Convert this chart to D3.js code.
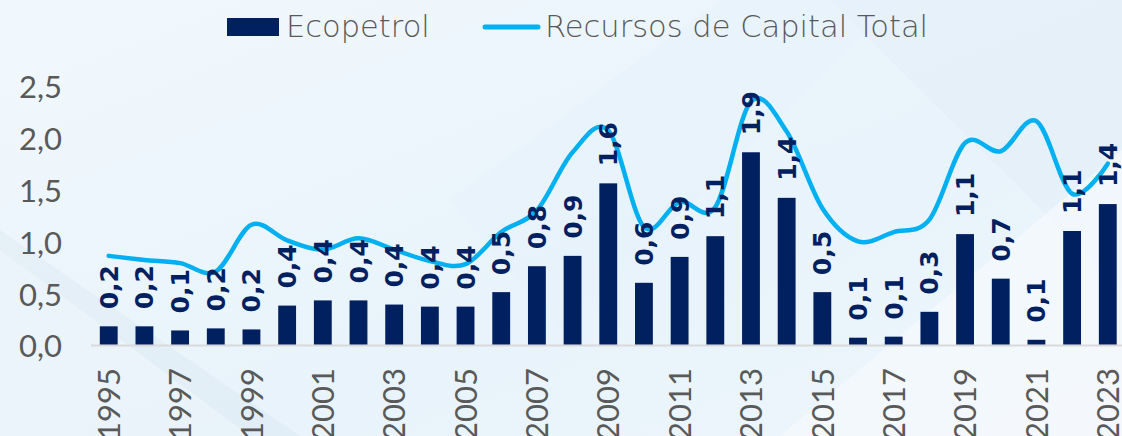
<!DOCTYPE html>
<html><head><meta charset="utf-8">
<script src="https://cdn.jsdelivr.net/npm/d3@7"></script>
<style>html,body{margin:0;padding:0;overflow:hidden;background:#eef6fc}</style>
</head><body>
<svg id="chart" width="1122" height="436"></svg>
<script>
const years = [1995,1996,1997,1998,1999,2000,2001,2002,2003,2004,2005,2006,2007,2008,2009,2010,2011,2012,2013,2014,2015,2016,2017,2018,2019,2020,2021,2022,2023];
const ecopetrol = [0.19,0.19,0.15,0.17,0.16,0.39,0.44,0.44,0.40,0.38,0.38,0.52,0.77,0.87,1.57,0.61,0.86,1.06,1.87,1.43,0.52,0.08,0.09,0.33,1.08,0.65,0.06,1.11,1.37];
const recursosTotal = [0.87,0.83,0.80,0.72,1.17,1.02,0.93,1.04,0.93,0.82,0.79,1.10,1.31,1.87,2.08,1.15,1.39,1.34,2.36,2.07,1.33,1.01,1.10,1.22,1.96,1.88,2.17,1.47,1.76];
const yTicks = [0,0.5,1.0,1.5,2.0,2.5];
const xTickYears = years.filter(y => (y - 1995) % 2 === 0);
const seriesNames = ["Ecopetrol","Recursos de Capital Total"];

const svg = d3.select("#chart");
const W = 1122, H = 436;
const comma = v => d3.format(".1f")(v).replace(".", ",");

// background
const defs = svg.append("defs");
const bg = defs.append("linearGradient").attr("id","bg").attr("x1","0").attr("y1","0").attr("x2","1").attr("y2","1");
bg.append("stop").attr("offset","0").attr("stop-color","#f1f8fd");
bg.append("stop").attr("offset","0.6").attr("stop-color","#e8f3fb");
bg.append("stop").attr("offset","1").attr("stop-color","#eef6fc");
svg.append("rect").attr("width",W).attr("height",H).attr("fill","url(#bg)");
svg.append("polygon").attr("points","0,230 0,436 300,436").attr("fill","#dbe8f2").attr("opacity",0.45);
svg.append("polygon").attr("points","0,250 0,436 250,436").attr("fill","#eef6fc").attr("opacity",0.6);
svg.append("polygon").attr("points","830,0 1122,0 1122,290").attr("fill","#e2eff9").attr("opacity",0.6);
svg.append("polygon").attr("points","780,436 1122,150 1122,436").attr("fill","#f6fafd").attr("opacity",0.7);
svg.append("polygon").attr("points","450,200 720,0 900,0 560,330").attr("fill","#e4f1fb").attr("opacity",0.35);

const x = d3.scaleBand().domain(years).range([90.9, 90.9 + 29*35.68]).paddingInner(0.5).paddingOuter(0.25);
const y = d3.scaleLinear().domain([0, 2.5]).range([346, 87]);
const cx = d => x(d) + x.bandwidth()/2;

// y axis labels
const yAxis = d3.axisLeft(y).tickValues(yTicks).tickFormat(comma).tickSize(0).tickPadding(0);
const gy = svg.append("g").attr("transform","translate(62,0)").call(yAxis);
gy.select(".domain").remove();
gy.selectAll("text").attr("font-family","Lato, 'Open Sans', sans-serif").attr("font-size",31).attr("fill","#595959").attr("dy","0.35em");

// baseline
svg.append("line").attr("x1",91).attr("x2",W).attr("y1",y(0)-0.5).attr("y2",y(0)-0.5).attr("stroke","#d9d9d9").attr("stroke-width",2);

// bars
svg.append("g").selectAll("rect").data(years).join("rect")
  .attr("x", d => x(d)).attr("width", x.bandwidth())
  .attr("y", (d,i) => y(ecopetrol[i])).attr("height", (d,i) => y(0) - y(ecopetrol[i]) - 1.5)
  .attr("fill","#002060");

// line
const line = d3.line().x((d,i) => cx(years[i])).y(d => y(d)).curve(d3.curveCardinal.tension(0));
svg.append("path").datum(recursosTotal).attr("d", line).attr("fill","none")
  .attr("stroke","#00b0f0").attr("stroke-width",4.5).attr("stroke-linejoin","round").attr("stroke-linecap","round");

// data labels
svg.append("g").selectAll("text").data(years).join("text")
  .attr("transform", (d,i) => `translate(${cx(d)},${y(ecopetrol[i]) - 17}) rotate(-90)`)
  .attr("dy","0.36em").attr("text-anchor","start")
  .attr("font-family","'DejaVu Sans', sans-serif").attr("font-weight","bold").attr("font-size",25)
  .attr("fill","#002060").text((d,i) => comma(ecopetrol[i]));

// x axis labels
const xAxis = d3.axisBottom(x).tickValues(xTickYears).tickSize(0).tickPadding(0);
const gx = svg.append("g").call(xAxis);
gx.select(".domain").remove();
gx.selectAll(".tick").attr("transform", d => `translate(${cx(d)},368)`);
gx.selectAll("text").attr("transform","rotate(-90)").attr("text-anchor","end").attr("y",0).attr("dy","0.36em")
  .attr("font-family","Lato, 'Open Sans', sans-serif").attr("font-size",31).attr("fill","#595959");

// legend
const lg = svg.append("g").attr("font-family","'DejaVu Sans', sans-serif").attr("font-weight",200).attr("font-size",30.5).attr("fill","#595959");
lg.append("rect").attr("x",227).attr("y",18).attr("width",52).attr("height",18).attr("fill","#002060");
lg.append("text").attr("x",286).attr("y",37).text(seriesNames[0]);
lg.append("line").attr("x1",485).attr("x2",538).attr("y1",27).attr("y2",27).attr("stroke","#00b0f0").attr("stroke-width",5).attr("stroke-linecap","round");
lg.append("text").attr("x",545).attr("y",37).text(seriesNames[1]);
</script>
</body></html>
